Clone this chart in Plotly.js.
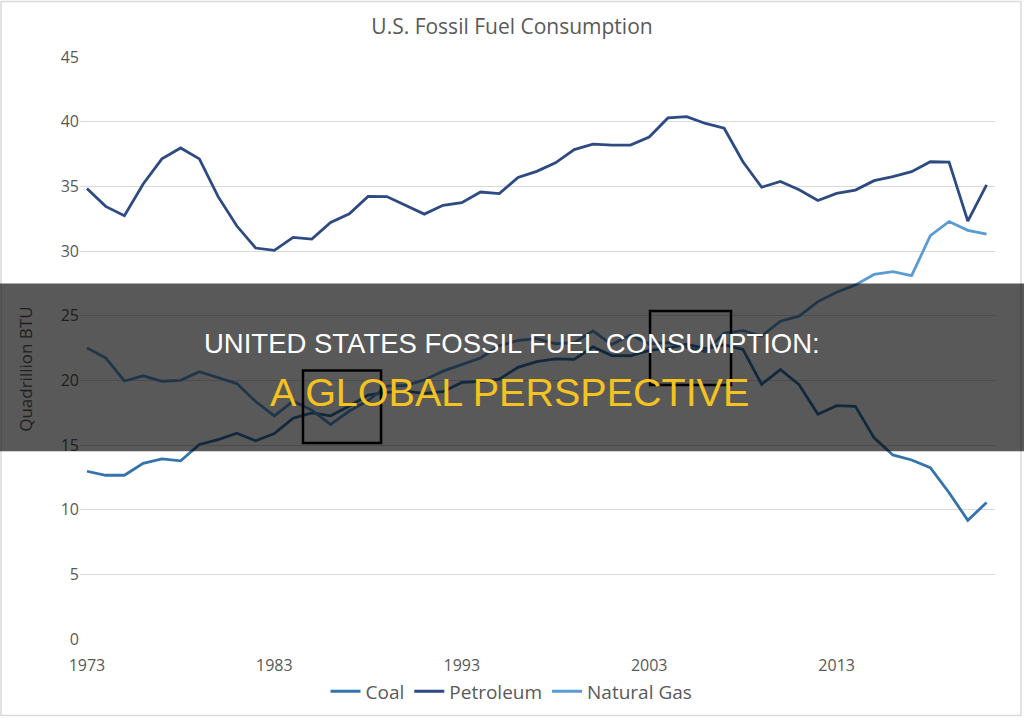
<!DOCTYPE html>
<html>
<head>
<meta charset="utf-8">
<script src="https://cdn.plot.ly/plotly-3.0.1.min.js"></script>
<style>
  html, body { margin: 0; padding: 0; background: #ffffff; }
  #chart { width: 1024px; height: 722px; }
</style>
</head>
<body>
<div id="chart"></div>
<script>
const years = [];
for (let y = 1973; y <= 2021; y++) years.push(y);

const coal = [12.97, 12.66, 12.66, 13.58, 13.92, 13.77, 15.04, 15.42, 15.91, 15.32,
  15.89, 17.07, 17.48, 17.26, 18.01, 18.85, 19.07, 19.17, 18.99, 19.12,
  19.84, 19.91, 20.09, 21.00, 21.45, 21.66, 21.62, 22.58, 21.91, 21.90,
  22.32, 22.47, 22.80, 22.45, 22.75, 22.39, 19.69, 20.83, 19.66, 17.38,
  18.04, 17.99, 15.55, 14.23, 13.84, 13.24, 11.31, 9.18, 10.55];

const petroleum = [34.84, 33.45, 32.73, 35.18, 37.12, 37.97, 37.12, 34.20, 31.93, 30.23,
  30.05, 31.05, 30.92, 32.20, 32.87, 34.22, 34.21, 33.55, 32.85, 33.53,
  33.74, 34.56, 34.44, 35.68, 36.16, 36.82, 37.84, 38.26, 38.19, 38.19,
  38.81, 40.29, 40.39, 39.86, 39.49, 36.90, 34.93, 35.38, 34.73, 33.90,
  34.45, 34.71, 35.44, 35.75, 36.13, 36.90, 36.88, 32.31, 35.11];

const naturalGas = [22.51, 21.73, 19.95, 20.35, 19.93, 20.00, 20.67, 20.24, 19.75, 18.36,
  17.25, 18.39, 17.70, 16.59, 17.63, 18.44, 19.56, 19.60, 20.03, 20.71,
  21.23, 21.73, 22.67, 23.08, 23.22, 22.83, 22.91, 23.82, 22.77, 23.51,
  22.83, 22.91, 22.56, 22.22, 23.66, 23.84, 23.42, 24.57, 24.96, 26.09,
  26.81, 27.38, 28.19, 28.40, 28.10, 31.18, 32.28, 31.60, 31.30];

const seriesNames = ['Coal', 'Petroleum', 'Natural Gas'];
const xTickVals = [1973, 1983, 1993, 2003, 2013];
const xTickText = ['1973', '1983', '1993', '2003', '2013'];
const yTickVals = [0, 5, 10, 15, 20, 25, 30, 35, 40, 45];

const chartTitle = 'U.S. Fossil Fuel Consumption';
const yTitle = 'Quadrillion BTU';
const bannerLine1 = 'UNITED STATES FOSSIL FUEL CONSUMPTION:';
const bannerLine2 = 'A GLOBAL PERSPECTIVE';

const colors = ['#3473ad', '#2d4a82', '#5b9bd5'];
const font = '"Open Sans", "Noto Sans", sans-serif';

const traces = [coal, petroleum, naturalGas].map((vals, i) => ({
  type: 'scatter', mode: 'lines', x: years, y: vals, name: seriesNames[i],
  line: {color: colors[i], width: 2.8}, hoverinfo: 'skip'
}));

const layout = {
  width: 1024, height: 722,
  margin: {l: 80, r: 29, t: 57, b: 79, pad: 0},
  paper_bgcolor: '#ffffff', plot_bgcolor: '#ffffff',
  font: {family: font, color: '#595959', size: 16},
  title: {text: chartTitle, font: {family: font, size: 21, color: '#595959'},
          x: 0.5, xanchor: 'center', y: 0.963, yanchor: 'middle'},
  showlegend: true,
  legend: {orientation: 'h', x: 0.4716, xanchor: 'center', y: -0.09, yanchor: 'middle',
           font: {family: font, size: 19, color: '#595959'}, itemwidth: 30,
           tracegroupgap: 0, bgcolor: 'rgba(0,0,0,0)'},
  xaxis: {range: [1972.63, 2021.45], tickmode: 'array', tickvals: xTickVals, ticktext: xTickText,
          showgrid: false, zeroline: false, showline: false, ticks: '', ticklabelstandoff: 15,
          tickfont: {family: font, size: 16, color: '#595959'}, fixedrange: true},
  yaxis: {range: [0, 45], tickmode: 'array', tickvals: yTickVals,
          showgrid: true, gridcolor: '#d9d9d9', gridwidth: 1, zeroline: false, showline: false,
          ticks: '', tickfont: {family: font, size: 16, color: '#595959'}, fixedrange: true},
  shapes: [
    {type: 'rect', xref: 'paper', yref: 'paper', x0: -0.0874, x1: 1.0317, y0: 0.3225, y1: 0.6109,
     fillcolor: 'rgba(0,0,0,0.65)', line: {width: 0}, layer: 'above'},
    {type: 'rect', xref: 'paper', yref: 'paper', x0: 0.2437, x1: 0.329, y0: 0.3367, y1: 0.4613,
     fillcolor: 'rgba(0,0,0,0)', line: {color: '#000000', width: 2.5}, layer: 'above'},
    {type: 'rect', xref: 'paper', yref: 'paper', x0: 0.623, x1: 0.7115, y0: 0.4363, y1: 0.5637,
     fillcolor: 'rgba(0,0,0,0)', line: {color: '#000000', width: 2.5}, layer: 'above'},
    {type: 'rect', xref: 'paper', yref: 'paper', x0: -0.0863, x1: 1.0284, y0: -0.1314, y1: 1.0955,
     fillcolor: 'rgba(0,0,0,0)', line: {color: '#d9d9d9', width: 1.5}, layer: 'below'}
  ],
  annotations: [
    {text: yTitle, xref: 'paper', yref: 'paper', x: -0.059, y: 0.4625, textangle: -90,
     showarrow: false, xanchor: 'center', yanchor: 'middle',
     font: {family: font, size: 17, color: '#1f1f1f'}},
    {text: bannerLine1, xref: 'paper', yref: 'paper', x: 0.4716, y: 0.5082,
     showarrow: false, xanchor: 'center', yanchor: 'middle',
     font: {family: '"Liberation Sans", Arial, sans-serif', size: 27.5, color: '#ffffff'}},
    {text: bannerLine2, xref: 'paper', yref: 'paper', x: 0.4699, y: 0.4246,
     showarrow: false, xanchor: 'center', yanchor: 'middle',
     font: {family: '"Liberation Sans", Arial, sans-serif', size: 39.5, color: '#f5c31f'}}
  ]
};

Plotly.newPlot('chart', traces, layout, {displayModeBar: false, staticPlot: true});
</script>
</body>
</html>
